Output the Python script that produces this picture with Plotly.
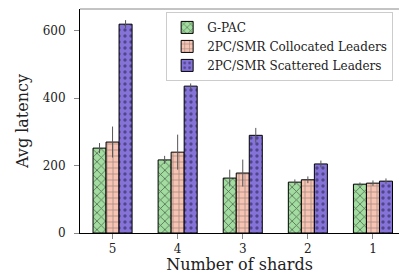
import plotly.graph_objects as go

shards = ["5", "4", "3", "2", "1"]
gpac = [252, 217, 163, 151, 145]
gpac_err = [15, 12, 25, 8, 5]
colloc = [270, 240, 178, 158, 148]
colloc_err = [46, 52, 40, 10, 8]
scatter = [620, 436, 290, 205, 154]
scatter_err = [12, 8, 22, 10, 8]

series = [
    ("G-PAC", gpac, gpac_err, "#a3dca0", "x", "#000000"),
    ("2PC/SMR Collocated Leaders", colloc, colloc_err, "#f7c3b2", "+", "#555555"),
    ("2PC/SMR Scattered Leaders", scatter, scatter_err, "#8673d8", ".", "#1a1a40"),
]

fig = go.Figure()
for name, vals, errs, col, shape, fg in series:
    fig.add_trace(go.Bar(
        x=shards, y=vals, name=name,
        marker=dict(color=col, line=dict(color="#000000", width=1),
                    pattern=dict(shape=shape, fgcolor=fg, size=6, solidity=0.25)),
        error_y=dict(type="data", array=errs, color="#555555", thickness=1, width=0),
    ))

font = "DejaVu Serif"
fig.update_layout(
    width=399, height=274,
    margin=dict(l=80, r=0, t=9, b=41),
    barmode="group", bargap=0.4, bargroupgap=0,
    plot_bgcolor="white", paper_bgcolor="white",
    font=dict(family=font, size=11, color="#222222"),
    legend=dict(x=0.27, y=0.987, xanchor="left", yanchor="top",
                bordercolor="#cccccc", borderwidth=1, bgcolor="white",
                font=dict(family=font, size=12), tracegroupgap=0, itemwidth=30),
    showlegend=True,
)
fig.update_xaxes(
    range=[-0.5, 4.4], showline=True, linecolor="#000000", linewidth=1,
    mirror=False, ticks="outside", ticklen=5, tickcolor="#888888",
    showgrid=False, tickfont=dict(family=font, size=12),
    title=dict(text="Number of shards", font=dict(family=font, size=16), standoff=4),
)
fig.update_yaxes(
    range=[0, 665], showline=True, linecolor="#000000", linewidth=1,
    ticks="outside", ticklen=5, tickcolor="#888888", tickvals=[0, 200, 400, 600],
    ticklabelstandoff=6,
    showgrid=False, zeroline=False, tickfont=dict(family=font, size=12),
    title=dict(text="Avg latency", font=dict(family=font, size=16), standoff=10),
)
fig.add_shape(type="line", xref="paper", yref="paper", x0=0, x1=1, y0=1, y1=1,
              line=dict(color="#888888", width=1))
fig.write_html("out.html", config={"displayModeBar": False},
               post_script="document.body.style.margin='0';")
